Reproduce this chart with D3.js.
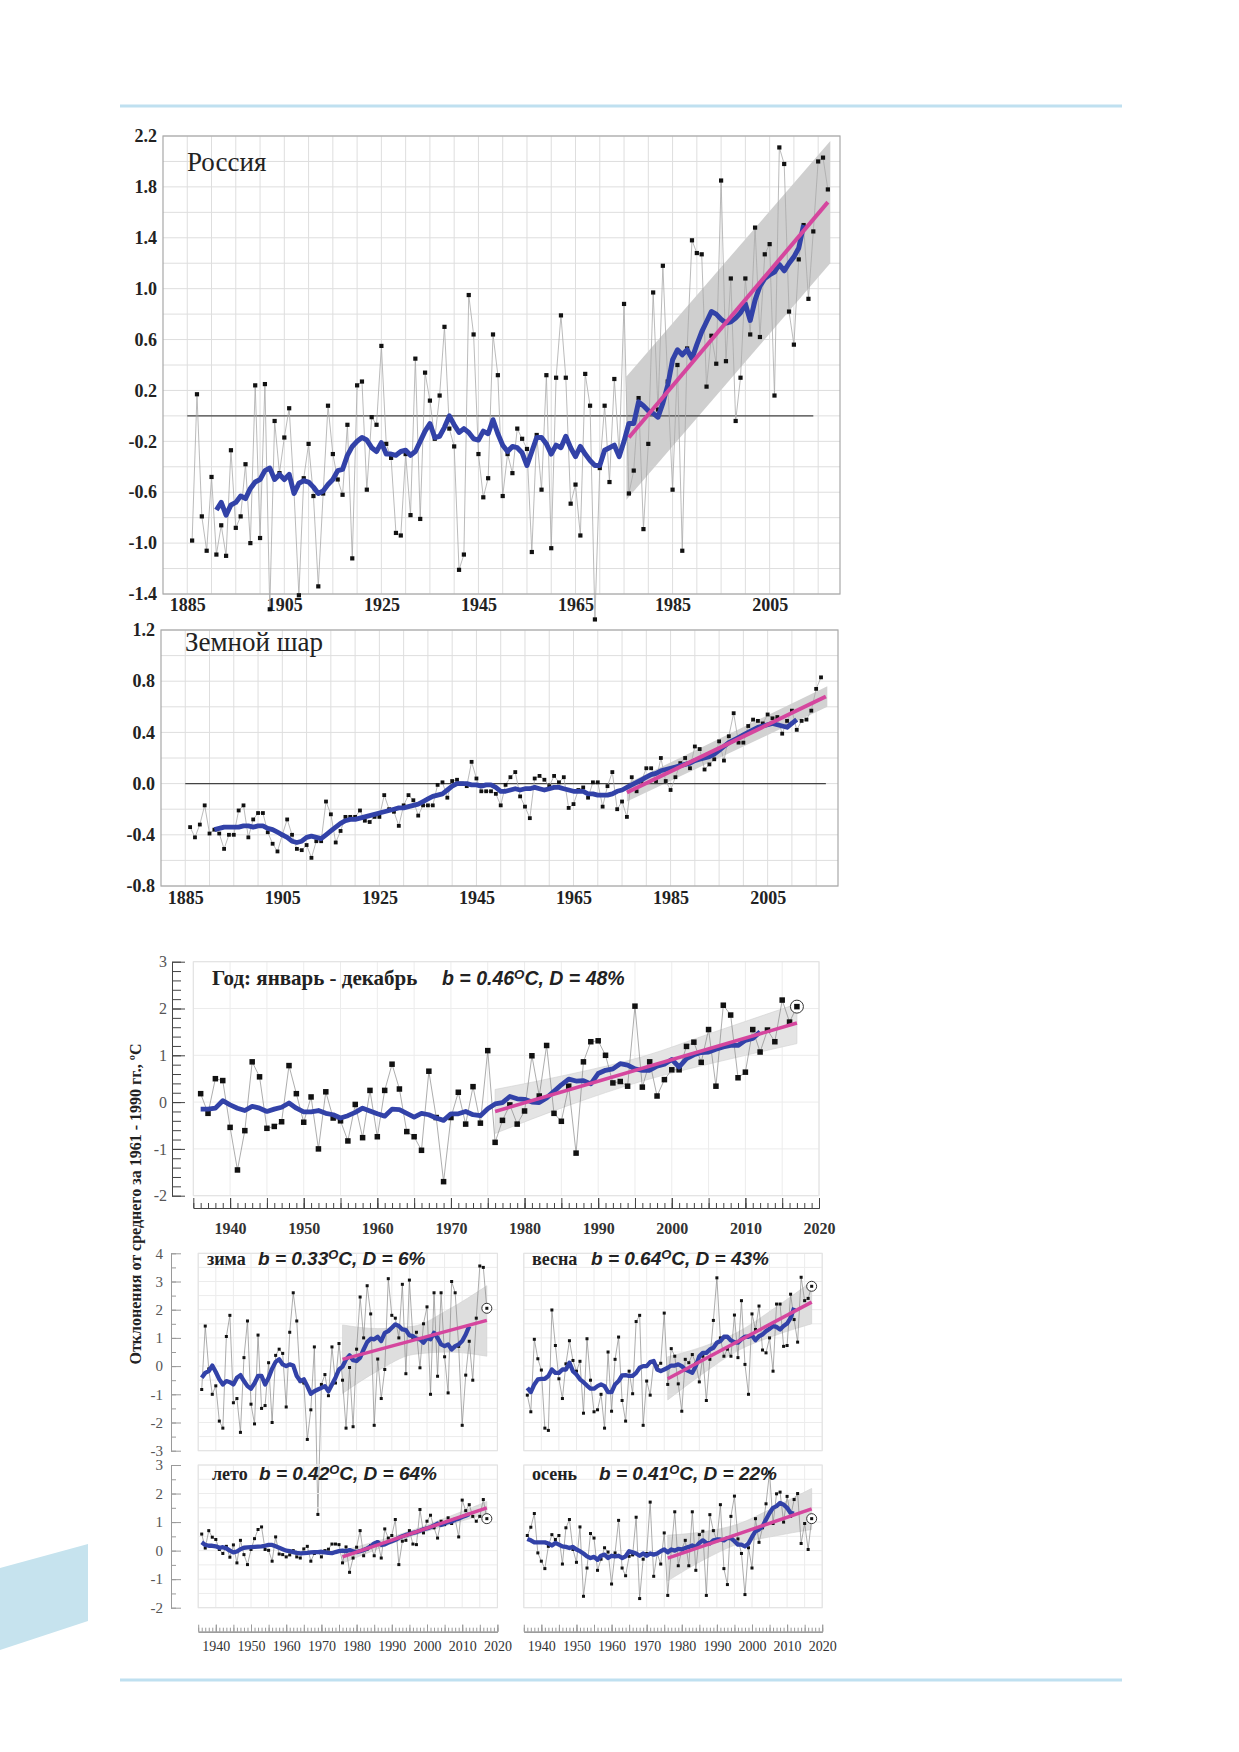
<!DOCTYPE html>
<html>
<head>
<meta charset="utf-8">
<script src="https://cdn.jsdelivr.net/npm/d3@7"></script>
<style>
  body { margin: 0; background: #fff; }
  svg { display: block; }
</style>
</head>
<body>
<svg id="chart" width="1239" height="1752"></svg>
<script>
// ---------- данные: Россия, 1886-2017 ----------
const russiaStart = 1886;
const russiaValues = [
  -0.98, 0.17, -0.79, -1.06, -0.48, -1.09, -0.86, -1.10, -0.27, -0.88,
  -0.79, -0.38, -1.00, 0.24, -0.96, 0.25, -1.52, -0.04, -0.45, -0.17,
  0.06, -0.60, -1.41, -0.49, -0.22, -0.63, -1.34, -0.61, 0.08, -0.30,
  -0.50, -0.62, -0.07, -1.12, 0.24, 0.27, -0.58, -0.01, -0.07, 0.55,
  -0.22, -0.33, -0.92, -0.94, -0.30, -0.78, 0.45, -0.81, 0.34, 0.12,
  -0.18, 0.16, 0.70, -0.10, -0.24, -1.21, -1.09, 0.95, 0.64, -0.30,
  -0.64, -0.49, 0.64, 0.32, -0.63, -0.30, -0.45, -0.10, -0.18, -0.26,
  -1.07, -0.15, -0.58, 0.32, -1.04, 0.30, 0.79, 0.30, -0.69, -0.54,
  -0.94, 0.33, 0.08, -1.60, -0.41, 0.08, -0.52, 0.29, -0.30, 0.88,
  -0.61, -0.43, 0.14, -0.89, -0.22, 0.97, 0.05, 1.18, 0.27, -0.58,
  0.40, -1.06, 0.53, 1.38, 1.28, 1.27, 0.23, 0.63, 0.41, 1.85,
  0.43, 1.08, -0.04, 0.30, 1.08, 0.64, 1.48, 0.62, 1.27, 1.35,
  0.16, 2.11, 1.98, 0.82, 0.56, 1.23, 1.50, 0.92, 1.45, 2.00,
  2.03, 1.78
];
// скользящее среднее (синяя линия), 1891-2012
const russiaSmoothStart = 1891;
const russiaSmooth = [
  -0.74, -0.68, -0.78, -0.70, -0.68, -0.63, -0.65, -0.57, -0.52, -0.50,
  -0.43, -0.41, -0.50, -0.46, -0.50, -0.46, -0.61, -0.53, -0.51, -0.52,
  -0.56, -0.61, -0.59, -0.54, -0.50, -0.43, -0.42, -0.31, -0.24, -0.20,
  -0.17, -0.19, -0.25, -0.28, -0.21, -0.30, -0.30, -0.31, -0.28, -0.27,
  -0.31, -0.28, -0.20, -0.12, -0.06, -0.17, -0.16, -0.09, 0.00, -0.07,
  -0.13, -0.10, -0.13, -0.18, -0.19, -0.12, -0.14, -0.03, -0.14, -0.23,
  -0.28, -0.24, -0.25, -0.29, -0.39, -0.28, -0.17, -0.17, -0.22, -0.30,
  -0.23, -0.25, -0.16, -0.25, -0.32, -0.24, -0.30, -0.35, -0.39, -0.39,
  -0.27, -0.25, -0.23, -0.32, -0.20, -0.06, -0.06, 0.11, 0.08, 0.04,
  0.02, -0.01, 0.10, 0.24, 0.44, 0.52, 0.48, 0.52, 0.45, 0.56,
  0.66, 0.74, 0.82, 0.80, 0.76, 0.73, 0.74, 0.77, 0.81, 0.88,
  0.75, 0.91, 1.02, 1.08, 1.11, 1.13, 1.19, 1.14, 1.20, 1.25,
  1.32, 1.50
];
const russiaTrendYears = [1976, 2017];
const russiaTrend = [-0.17, 1.68];
const russiaBandYears = [1975.5, 2017.5];
const russiaBandLow = [-0.66, 1.20];
const russiaBandHigh = [0.31, 2.16];
const russiaYLabels = [2.2, 1.8, 1.4, 1.0, 0.6, 0.2, -0.2, -0.6, -1.0, -1.4];

// ---------- данные: Земной шар, 1886-2016 ----------
const globeStart = 1886;
const globeValues = [
  -0.34, -0.42, -0.32, -0.17, -0.39, -0.36, -0.39, -0.51, -0.40, -0.40,
  -0.21, -0.17, -0.42, -0.28, -0.23, -0.23, -0.38, -0.47, -0.53, -0.40,
  -0.28, -0.40, -0.51, -0.52, -0.48, -0.58, -0.45, -0.45, -0.14, -0.24,
  -0.46, -0.37, -0.26, -0.26, -0.26, -0.21, -0.29, -0.30, -0.26, -0.26,
  -0.09, -0.20, -0.22, -0.33, -0.17, -0.09, -0.13, -0.25, -0.17, -0.17,
  -0.17, -0.01, 0.01, -0.11, 0.02, 0.03, 0.00, -0.02, 0.17, 0.04,
  -0.06, -0.06, -0.06, -0.08, -0.17, -0.01, 0.05, 0.09, -0.10, -0.18,
  -0.27, 0.04, 0.06, 0.03, -0.02, 0.06, 0.01, 0.05, -0.19, -0.16,
  -0.05, -0.03, -0.11, 0.01, 0.01, -0.18, -0.02, 0.09, -0.20, -0.14,
  -0.26, 0.05, -0.06, 0.02, 0.12, 0.12, 0.02, 0.20, 0.02, -0.05,
  0.05, 0.16, 0.20, 0.12, 0.29, 0.27, 0.11, 0.15, 0.19, 0.33,
  0.18, 0.37, 0.55, 0.32, 0.32, 0.45, 0.50, 0.49, 0.47, 0.54,
  0.51, 0.52, 0.39, 0.49, 0.57, 0.42, 0.49, 0.50, 0.57, 0.74,
  0.83
];
const globeSmoothStart = 1891;
const globeSmooth = [
  -0.36, -0.35, -0.34, -0.34, -0.34, -0.34, -0.33, -0.33, -0.34, -0.33,
  -0.33, -0.35, -0.36, -0.38, -0.40, -0.42, -0.45, -0.46, -0.45, -0.42,
  -0.41, -0.42, -0.43, -0.40, -0.37, -0.34, -0.31, -0.29, -0.28, -0.28,
  -0.27, -0.26, -0.25, -0.24, -0.23, -0.22, -0.21, -0.20, -0.19, -0.19,
  -0.18, -0.17, -0.16, -0.14, -0.12, -0.10, -0.09, -0.08, -0.05, -0.02,
  0.00, 0.00, 0.00, -0.01, -0.01, -0.02, -0.01, -0.01, -0.03, -0.06,
  -0.06, -0.05, -0.04, -0.05, -0.04, -0.04, -0.03, -0.04, -0.05, -0.04,
  -0.03, -0.03, -0.04, -0.05, -0.06, -0.06, -0.06, -0.08, -0.08, -0.09,
  -0.09, -0.09, -0.08, -0.06, -0.05, -0.03, -0.01, 0.01, 0.03, 0.05,
  0.07, 0.08, 0.10, 0.11, 0.12, 0.13, 0.14, 0.15, 0.16, 0.18,
  0.19, 0.20, 0.21, 0.23, 0.26, 0.29, 0.32, 0.34, 0.36, 0.38,
  0.40, 0.42, 0.44, 0.45, 0.46, 0.47, 0.46, 0.45, 0.44, 0.47,
  0.50
];
const globeTrendYears = [1976, 2017];
const globeTrend = [-0.07, 0.68];
const globeBandYears = [1976, 2017.3];
const globeBandLow = [-0.14, 0.60];
const globeBandHigh = [0.00, 0.76];
const globeYLabels = [1.2, 0.8, 0.4, 0.0, -0.4, -0.8];
const longXLabels = [1885, 1905, 1925, 1945, 1965, 1985, 2005];

// ---------- данные: год и сезоны, 1936-2017 ----------
const seasonStart = 1936;
const yearValues = [
  0.18, -0.24, 0.50, 0.46, -0.54, -1.45, -0.61, 0.86, 0.54, -0.56,
  -0.52, -0.42, 0.78, 0.18, -0.43, 0.11, -1.00, 0.22, -0.34, -0.40,
  -0.83, -0.05, -0.76, 0.25, -0.74, 0.25, 0.81, 0.28, -0.63, -0.74,
  -1.03, 0.66, -0.33, -1.70, -0.33, 0.21, -0.47, 0.33, -0.45, 1.10,
  -0.86, -0.39, -0.06, -0.47, -0.19, 0.99, 0.13, 1.21, -0.24, -0.41,
  0.34, -1.09, 0.86, 1.29, 1.31, 1.00, 0.41, 0.44, 0.34, 2.05,
  0.32, 0.86, 0.13, 0.48, 0.69, 0.69, 1.19, 1.28, 0.85, 1.55,
  0.34, 2.07, 1.86, 0.52, 0.64, 1.55, 1.07, 1.54, 1.29, 2.18,
  1.71, 2.04
];
const yearSmooth = [
  -0.15, -0.15, -0.13, 0.03, -0.06, -0.13, -0.18, -0.09, -0.13, -0.20,
  -0.15, -0.11, -0.02, -0.13, -0.21, -0.21, -0.18, -0.24, -0.27, -0.34,
  -0.29, -0.22, -0.13, -0.19, -0.25, -0.30, -0.15, -0.16, -0.24, -0.32,
  -0.24, -0.27, -0.34, -0.39, -0.25, -0.25, -0.20, -0.27, -0.29, -0.14,
  -0.04, -0.01, 0.12, 0.07, 0.06, 0.00, -0.01, 0.09, 0.23, 0.37,
  0.49, 0.45, 0.46, 0.39, 0.61, 0.68, 0.71, 0.82, 0.79, 0.71,
  0.68, 0.68, 0.77, 0.81, 0.91, 0.75, 0.93, 1.01, 1.06, 1.07,
  1.13, 1.18, 1.21, 1.21, 1.32, 1.36, 1.50
];
const winterValues = [
  -0.83, 1.42, -0.10, -1.00, -0.70, -1.95, -2.20, 1.05, 1.80, -1.30,
  -1.15, -2.35, 0.30, 1.60, -1.35, -2.05, 1.10, -1.50, -1.40, 0.12,
  -2.00, 0.38, 0.60, 0.45, -1.45, 1.20, 2.60, 1.60, -0.55, -0.60,
  -2.60, -1.55, 0.68, -5.26, -0.65, -0.30, -1.05, 0.68, -0.60, 0.80,
  -0.50, -2.20, -0.05, -2.15, 0.60, 2.45, 1.00, 2.85, 1.85, -2.10,
  0.25, -1.15, -0.12, 3.10, 1.80, 1.70, 1.00, 2.90, -0.27, 3.05,
  1.00, 1.20, -0.06, 1.50, 2.10, -1.00, 2.60, -0.36, 2.60, 0.33,
  -0.95, 3.00, 2.60, 0.70, -2.10, -0.32, 0.88, -0.50, 1.70, 3.55,
  3.50, 2.05
];
const winterSmooth = [
  -0.41, -0.24, -0.18, 0.02, -0.21, -0.47, -0.65, -0.53, -0.57, -0.65,
  -0.41, -0.32, -0.53, -0.71, -0.80, -0.61, -0.35, -0.35, -0.65, -0.41,
  -0.09, 0.15, 0.24, 0.06, 0.00, 0.06, 0.02, -0.35, -0.53, -0.47,
  -0.71, -0.98, -0.89, -0.83, -0.77, -0.71, -0.89, -0.65, -0.41, -0.12,
  -0.02, 0.24, 0.38, 0.21, 0.18, 0.30, 0.59, 0.85, 0.97, 0.95,
  1.04, 0.89, 1.18, 1.24, 1.36, 1.48, 1.42, 1.30, 1.28, 1.09,
  1.06, 0.97, 0.95, 0.83, 1.00, 0.95, 1.18, 1.00, 0.77, 0.71,
  0.77, 0.59, 0.71, 0.77, 0.89, 1.12, 1.42
];
const springValues = [
  -1.03, -1.62, 0.95, 0.26, -0.14, -2.20, -2.28, 1.99, 0.73, -0.45,
  -1.15, 0.08, 0.90, 0.20, -0.18, 0.17, -1.67, 0.97, -0.50, -1.62,
  -1.55, -1.00, -2.20, 0.50, -1.60, 0.24, 1.03, -1.22, -1.95, -0.18,
  -0.98, 1.58, 1.80, -2.10, -0.53, -1.03, 0.12, 0.00, 0.10, 1.88,
  -0.65, 0.62, 0.35, -0.63, -1.60, 0.24, 0.12, 0.41, 0.10, -0.56,
  0.35, -1.22, 0.24, 1.62, 3.13, 1.00, 0.35, 0.60, 0.35, 1.81,
  0.30, 2.32, 0.06, -1.00, 1.85, 1.30, 2.13, 0.57, 0.47, 1.00,
  -0.18, 2.20, 2.20, 0.70, 0.73, 2.55, 1.65, 0.85, 3.15, 2.32,
  2.40, 2.83
];
const springSmooth = [
  -0.77, -0.92, -0.65, -0.47, -0.45, -0.45, -0.35, -0.12, -0.24, -0.24,
  -0.12, -0.12, 0.12, -0.18, -0.30, -0.47, -0.57, -0.69, -0.80, -0.80,
  -0.71, -0.65, -0.71, -0.92, -0.92, -0.65, -0.53, -0.33, -0.32, -0.35,
  -0.35, -0.24, -0.06, 0.00, 0.00, 0.14, 0.18, -0.12, -0.18, -0.12,
  -0.06, 0.02, 0.02, 0.06, 0.00, -0.12, -0.18, -0.24, 0.00, 0.35,
  0.47, 0.47, 0.59, 0.65, 0.83, 0.89, 1.04, 1.04, 0.91, 0.85,
  0.83, 0.95, 1.04, 1.04, 1.09, 0.92, 1.06, 1.12, 1.24, 1.32,
  1.42, 1.39, 1.30, 1.42, 1.51, 1.71, 2.07
];
const summerValues = [
  0.58, 0.09, 0.70, 0.47, 0.39, 0.04, -0.10, 0.15, -0.23, 0.20,
  -0.43, 0.36, -0.14, -0.49, 0.04, 0.42, 0.74, 0.83, 0.04, 0.01,
  -0.37, 0.48, -0.12, -0.14, -0.22, -0.15, 0.00, -0.22, -0.26, 0.06,
  0.15, -0.37, -0.10, -0.05, -0.22, 0.00, 0.05, 0.23, 0.23, 0.21,
  -0.43, 0.13, -0.76, -0.26, 0.12, 0.70, -0.18, 0.05, 0.18, -0.18,
  0.30, -0.26, 0.76, 0.44, 0.53, 1.09, -0.49, 0.33, 0.36, 0.70,
  0.23, 0.21, 1.44, 0.62, 1.03, 1.24, 0.80, 0.44, 1.03, 0.91,
  1.15, 0.95, 1.10, 0.48, 1.77, 1.40, 1.61, 1.20, 1.03, 1.20,
  1.79, 1.12
];
const summerSmooth = [
  0.29, 0.20, 0.17, 0.17, 0.15, 0.10, 0.12, 0.08, 0.00, -0.06,
  -0.03, 0.05, 0.10, 0.11, 0.12, 0.13, 0.14, 0.15, 0.17, 0.20,
  0.20, 0.15, 0.10, 0.05, 0.00, -0.02, -0.05, -0.08, -0.10, -0.09,
  -0.08, -0.06, -0.05, -0.05, -0.04, -0.06, -0.08, -0.09, -0.05, -0.02,
  0.00, -0.02, 0.02, -0.03, -0.05, -0.02, 0.02, 0.08, 0.15, 0.25,
  0.30, 0.20, 0.22, 0.28, 0.33, 0.38, 0.45, 0.50, 0.55, 0.58,
  0.62, 0.65, 0.70, 0.75, 0.78, 0.82, 0.88, 0.95, 0.90, 0.95,
  1.00, 1.02, 1.08, 1.12, 1.18, 1.22, 1.28
];
const autumnValues = [
  0.53, 0.82, 1.30, -0.08, -0.37, -0.63, 0.15, 0.56, 0.39, 0.53,
  -0.47, 0.80, 1.09, 0.04, -0.41, 0.83, -1.60, -0.61, 0.60, 0.44,
  -0.69, -0.30, 0.10, -0.05, -1.17, -0.08, 1.06, -0.61, -0.88, -0.20,
  -0.15, 1.17, -1.68, -0.30, -0.10, 1.70, -0.90, -0.10, -0.47, 0.62,
  -1.57, 0.00, 1.36, -0.53, 0.05, 0.36, -0.53, 1.36, -0.69, 0.56,
  0.68, -1.57, 1.26, 0.70, 0.35, 1.61, -0.63, -1.19, 1.20, 1.91,
  0.41, -0.10, -1.54, 0.10, -0.61, 1.12, 0.29, 0.80, 1.64, 2.75,
  0.95, 1.99, 2.05, 1.00, 1.90, 1.20, 1.79, 2.00, 0.25, 0.95,
  0.04, 1.12
];
const autumnSmooth = [
  0.41, 0.36, 0.29, 0.29, 0.29, 0.29, 0.25, 0.18, 0.27, 0.21,
  0.15, 0.13, 0.09, 0.13, 0.04, -0.02, -0.10, -0.20, -0.26, -0.22,
  -0.32, -0.18, -0.14, -0.26, -0.18, -0.20, -0.18, -0.26, -0.20, -0.02,
  -0.06, -0.10, -0.18, -0.10, -0.18, -0.10, -0.14, -0.10, -0.02, 0.04,
  -0.06, 0.04, 0.00, 0.06, 0.04, 0.09, 0.13, 0.18, 0.13, 0.27,
  0.36, 0.27, 0.25, 0.36, 0.39, 0.39, 0.36, 0.44, 0.44, 0.33,
  0.21, 0.21, 0.15, 0.25, 0.48, 0.68, 0.74, 0.85, 1.09, 1.32,
  1.50, 1.56, 1.67, 1.61, 1.50, 1.32, 1.30
];
// линейный тренд 1976-2017 и доверительная полоса
const trendYears = [1976, 2017];
const yearTrend = [-0.20, 1.69];
const winterTrend = [0.24, 1.62];
const springTrend = [-0.45, 2.27];
const summerTrend = [-0.22, 1.50];
const autumnTrend = [-0.26, 1.46];
const bandYears = [1976, 1986, 1996, 2006, 2017];
const yearBandLow = [-0.67, -0.07, 0.45, 0.85, 1.25];
const yearBandHigh = [0.27, 0.59, 0.97, 1.51, 2.10];
const winterBandLow = [-0.97, -0.17, 0.41, 0.50, 0.35];
const winterBandHigh = [1.46, 1.33, 1.41, 2.00, 2.85];
const springBandLow = [-1.20, -0.27, 0.55, 1.06, 1.50];
const springBandHigh = [0.33, 0.69, 1.21, 2.02, 3.00];
const summerBandLow = [-0.44, 0.06, 0.52, 0.90, 1.28];
const summerBandHigh = [0.00, 0.34, 0.72, 1.18, 1.72];
const autumnBandLow = [-1.06, -0.34, 0.23, 0.50, 0.74];
const autumnBandHigh = [0.54, 0.66, 0.93, 1.50, 2.18];
const decadeLabels = [1940, 1950, 1960, 1970, 1980, 1990, 2000, 2010, 2020];

// ---------- оформление ----------
const svg = d3.select("#chart");
const serif = "'Liberation Serif', 'Times New Roman', serif";
const sans = "'Liberation Sans', Arial, sans-serif";
const BLUE = "#3242a8";
const PINK = "#d5469e";

// вспомогательная функция: пары [год, значение]
function pairs(start, values) {
  return values.map((v, i) => [start + i, v]);
}
function zip(years, values) {
  return years.map((y, i) => [y, values[i]]);
}

// рамки страницы
svg.append("line").attr("x1", 120).attr("x2", 1122).attr("y1", 106).attr("y2", 106)
  .attr("stroke", "#bfe0f0").attr("stroke-width", 3);
svg.append("line").attr("x1", 120).attr("x2", 1122).attr("y1", 1680).attr("y2", 1680)
  .attr("stroke", "#bfe0f0").attr("stroke-width", 3);
svg.append("polygon").attr("points", "0,1568 88,1544 88,1621 0,1650").attr("fill", "#c6e3ee");

// ================= длинные ряды (Россия, Земной шар) =================
function longPanel(o) {
  const g = svg.append("g");
  const x = d3.scaleLinear().domain([1880, 2019.5]).range([o.left, o.right]);
  const y = d3.scaleLinear().domain(o.yDomain).range([o.bottom, o.top]);

  // сетка
  g.selectAll(".vg").data(d3.range(1885, 2019, 5)).join("line")
    .attr("x1", d => x(d)).attr("x2", d => x(d))
    .attr("y1", o.top).attr("y2", o.bottom)
    .attr("stroke", "#dedede").attr("stroke-width", 1);
  g.selectAll(".hg").data(o.gridY).join("line")
    .attr("x1", o.left).attr("x2", o.right)
    .attr("y1", d => y(d)).attr("y2", d => y(d))
    .attr("stroke", "#dedede").attr("stroke-width", 1);
  g.append("rect").attr("x", o.left).attr("y", o.top)
    .attr("width", o.right - o.left).attr("height", o.bottom - o.top)
    .attr("fill", "none").attr("stroke", "#a8a8a8").attr("stroke-width", 1.2);

  // подписи осей
  g.append("g").attr("transform", `translate(${o.left},0)`)
    .call(d3.axisLeft(y).tickValues(o.yLabels).tickSize(0).tickPadding(6).tickFormat(d => d.toFixed(1)))
    .call(a => a.select(".domain").remove())
    .selectAll("text").attr("font-family", serif).attr("font-weight", "bold")
    .attr("font-size", 18).attr("fill", "#222");
  g.append("g").attr("transform", `translate(0,${o.bottom})`)
    .call(d3.axisBottom(x).tickValues(longXLabels).tickSize(0).tickPadding(o.xPad).tickFormat(d => d))
    .call(a => a.select(".domain").remove())
    .selectAll("text").attr("font-family", serif).attr("font-weight", "bold")
    .attr("font-size", 18).attr("fill", "#222");

  // полоса тренда
  const band = o.bandYears.map((yr, i) => ({ yr, lo: o.bandLow[i], hi: o.bandHigh[i] }));
  g.append("path").datum(band)
    .attr("d", d3.area().x(d => x(d.yr)).y0(d => y(d.lo)).y1(d => y(d.hi)))
    .attr("fill", o.bandColor).attr("stroke", "none");

  // нулевая линия
  g.append("line").attr("x1", x(1885)).attr("x2", x(o.zeroEnd))
    .attr("y1", y(0)).attr("y2", y(0)).attr("stroke", "#444").attr("stroke-width", 1.3);

  // годовые значения
  const pts = pairs(o.start, o.values);
  g.append("path").datum(pts)
    .attr("d", d3.line().x(d => x(d[0])).y(d => y(d[1])))
    .attr("fill", "none").attr("stroke", "#a9a9a9").attr("stroke-width", 0.8);
  g.selectAll(".pt").data(pts).join("rect")
    .attr("x", d => x(d[0]) - o.sq / 2).attr("y", d => y(d[1]) - o.sq / 2)
    .attr("width", o.sq).attr("height", o.sq).attr("fill", "#111");

  // сглаженная кривая и тренд
  g.append("path").datum(pairs(o.smoothStart, o.smooth))
    .attr("d", d3.line().x(d => x(d[0])).y(d => y(d[1])))
    .attr("fill", "none").attr("stroke", BLUE).attr("stroke-width", o.blueW)
    .attr("stroke-linejoin", "round");
  g.append("path").datum(zip(o.trendYears, o.trend))
    .attr("d", d3.line().x(d => x(d[0])).y(d => y(d[1])))
    .attr("fill", "none").attr("stroke", PINK).attr("stroke-width", 4);

  g.append("text").attr("x", o.left + 24).attr("y", o.titleY)
    .attr("font-family", serif).attr("font-size", 27).attr("fill", "#222").text(o.title);
}

longPanel({
  title: "Россия", titleY: 171,
  left: 163, right: 840, top: 136, bottom: 594,
  yDomain: [-1.4, 2.2], yLabels: russiaYLabels,
  gridY: d3.range(-14, 23, 2).map(d => d / 10), xPad: 4,
  start: russiaStart, values: russiaValues,
  smoothStart: russiaSmoothStart, smooth: russiaSmooth,
  trendYears: russiaTrendYears, trend: russiaTrend,
  bandYears: russiaBandYears, bandLow: russiaBandLow, bandHigh: russiaBandHigh,
  bandColor: "#cfcfcf", zeroEnd: 2014, sq: 4.2, blueW: 5
});
longPanel({
  title: "Земной шар", titleY: 651,
  left: 161, right: 838, top: 630, bottom: 886,
  yDomain: [-0.8, 1.2], yLabels: globeYLabels,
  gridY: d3.range(-8, 13, 2).map(d => d / 10), xPad: 5,
  start: globeStart, values: globeValues,
  smoothStart: globeSmoothStart, smooth: globeSmooth,
  trendYears: globeTrendYears, trend: globeTrend,
  bandYears: globeBandYears, bandLow: globeBandLow, bandHigh: globeBandHigh,
  bandColor: "#d2d2d2", zeroEnd: 2017, sq: 3.8, blueW: 4.8
});

// ================= год и сезоны =================
function statsText(g, x, y, size, b, D) {
  const t = g.append("text").attr("x", x).attr("y", y)
    .attr("font-family", sans).attr("font-weight", "bold").attr("font-style", "italic")
    .attr("font-size", size).attr("fill", "#222");
  t.append("tspan").text(`b = ${b}`);
  t.append("tspan").attr("font-size", size * 0.68).attr("dy", -size * 0.32).text("O");
  t.append("tspan").attr("dy", size * 0.32).text(`C, D = ${D}%`);
}

function seasonPanel(o) {
  const g = svg.append("g");
  const x = d3.scaleLinear().domain([1935, 2020]).range([o.left, o.right]);
  const y = d3.scaleLinear().domain(o.yDomain).range([o.bottom, o.top]);

  g.selectAll(".vg").data(d3.range(1935, 2021, 5)).join("line")
    .attr("x1", d => x(d)).attr("x2", d => x(d)).attr("y1", o.top).attr("y2", o.bottom)
    .attr("stroke", o.gridColor).attr("stroke-width", 1);
  g.selectAll(".hg").data(o.gridY).join("line")
    .attr("x1", o.left).attr("x2", o.right).attr("y1", d => y(d)).attr("y2", d => y(d))
    .attr("stroke", o.gridColor).attr("stroke-width", 1);
  g.append("rect").attr("x", o.left).attr("y", o.top)
    .attr("width", o.right - o.left).attr("height", o.bottom - o.top)
    .attr("fill", "none").attr("stroke", "#e2e2e2");

  // ось Y
  if (o.yAxisX) {
    const ay = g.append("g").attr("transform", `translate(${o.yAxisX},0)`);
    ay.call(d3.axisLeft(y).tickValues(o.minorY).tickSize(-o.minorLen).tickSizeOuter(0).tickFormat(""));
    ay.append("g").call(d3.axisLeft(y).tickValues(o.majorY).tickSize(-o.majorLen)
      .tickSizeOuter(0).tickPadding(o.yPad).tickFormat(d => String(d)));
    ay.selectAll("path,line").attr("stroke", o.axisColor);
    ay.selectAll("text").attr("font-family", serif).attr("font-size", o.yFont).attr("fill", "#555");
  }
  // ось X
  if (o.xAxisY) {
    const ax = g.append("g").attr("transform", `translate(0,${o.xAxisY})`);
    ax.call(d3.axisBottom(x).tickValues(d3.range(1935, 2021)).tickSize(-o.xMinor).tickSizeOuter(0).tickFormat(""));
    ax.append("g").call(d3.axisBottom(x).tickValues(d3.range(1935, 2021, 5)).tickSize(-o.xMajor)
      .tickSizeOuter(0).tickFormat(""));
    ax.append("g").call(d3.axisBottom(x).tickValues(decadeLabels).tickSize(-o.xMajor)
      .tickSizeOuter(0).tickPadding(o.xPad).tickFormat(d => d));
    ax.selectAll("path,line").attr("stroke", o.axisColor);
    ax.selectAll("text").attr("font-family", serif).attr("font-size", o.xFont)
      .attr("font-weight", o.xBold ? "bold" : "normal").attr("fill", "#333");
  }

  // полоса
  const band = bandYears.map((yr, i) => ({ yr, lo: o.bandLow[i], hi: o.bandHigh[i] }));
  g.append("path").datum(band)
    .attr("d", d3.area().curve(d3.curveMonotoneX).x(d => x(d.yr)).y0(d => y(d.lo)).y1(d => y(d.hi)))
    .attr("fill", o.bandColor).attr("stroke", "#d0d0d0").attr("stroke-width", 0.6);

  const pts = pairs(seasonStart, o.values);
  g.append("path").datum(pts)
    .attr("d", d3.line().x(d => x(d[0])).y(d => y(d[1])))
    .attr("fill", "none").attr("stroke", "#8a8a8a").attr("stroke-width", 0.7);
  const last = pts[pts.length - 1];
  g.append("circle").attr("cx", x(last[0])).attr("cy", y(last[1])).attr("r", o.ring)
    .attr("fill", "#fff").attr("stroke", "#333").attr("stroke-width", 1);
  g.selectAll(".pt").data(pts).join("rect")
    .attr("x", d => x(d[0]) - o.sq / 2).attr("y", d => y(d[1]) - o.sq / 2)
    .attr("width", o.sq).attr("height", o.sq).attr("fill", "#111");

  g.append("path").datum(pairs(seasonStart, o.smooth))
    .attr("d", d3.line().x(d => x(d[0])).y(d => y(d[1])))
    .attr("fill", "none").attr("stroke", BLUE).attr("stroke-width", o.blueW)
    .attr("stroke-linejoin", "round");
  g.append("path").datum(zip(trendYears, o.trend))
    .attr("d", d3.line().x(d => x(d[0])).y(d => y(d[1])))
    .attr("fill", "none").attr("stroke", PINK).attr("stroke-width", o.pinkW);

  g.append("text").attr("x", o.nameX).attr("y", o.titleY)
    .attr("font-family", serif).attr("font-weight", "bold").attr("font-size", o.nameFont)
    .attr("fill", "#222").text(o.name);
  statsText(g, o.statX, o.titleY, o.statFont, o.b, o.D);
}

// годовой график
seasonPanel({
  name: "Год: январь - декабрь", nameX: 212, statX: 442, titleY: 985,
  nameFont: 21, statFont: 19.5, b: "0.46", D: 48,
  left: 193.3, right: 819, top: 961.7, bottom: 1195.7, yDomain: [-2, 3],
  gridY: [-2, -1, 0, 1, 2, 3], gridColor: "#ececec",
  yAxisX: 172, majorY: [-2, -1, 0, 1, 2, 3], minorY: d3.range(-20, 31, 2).map(d => d / 10),
  majorLen: 13, minorLen: 9, yPad: 5, yFont: 16, axisColor: "#444",
  xAxisY: 1208, xMinor: 5, xMajor: 10, xPad: 15, xFont: 16, xBold: true,
  values: yearValues, smooth: yearSmooth, trend: yearTrend,
  bandLow: yearBandLow, bandHigh: yearBandHigh, bandColor: "#e4e4e4",
  sq: 5.5, ring: 6.5, blueW: 4.8, pinkW: 3.5
});
// зима
seasonPanel({
  name: "зима", nameX: 207, statX: 258, titleY: 1265,
  nameFont: 18, statFont: 19, b: "0.33", D: 6,
  left: 198.2, right: 497.4, top: 1253.3, bottom: 1450.7, yDomain: [-3, 4],
  gridY: d3.range(-6, 9).map(d => d / 2), gridColor: "#ececec",
  yAxisX: 171, majorY: [-3, -2, -1, 0, 1, 2, 3, 4], minorY: d3.range(-6, 9).map(d => d / 2),
  majorLen: 10, minorLen: 5, yPad: 8, yFont: 15, axisColor: "#9a9a9a",
  values: winterValues, smooth: winterSmooth, trend: winterTrend,
  bandLow: winterBandLow, bandHigh: winterBandHigh, bandColor: "#dedede",
  sq: 3, ring: 5, blueW: 4.3, pinkW: 3.5
});
// весна
seasonPanel({
  name: "весна", nameX: 532, statX: 591, titleY: 1265,
  nameFont: 18, statFont: 19, b: "0.64", D: 43,
  left: 523.8, right: 822.2, top: 1253.3, bottom: 1450.7, yDomain: [-3, 4],
  gridY: d3.range(-6, 9).map(d => d / 2), gridColor: "#ececec",
  values: springValues, smooth: springSmooth, trend: springTrend,
  bandLow: springBandLow, bandHigh: springBandHigh, bandColor: "#dedede",
  sq: 3, ring: 5, blueW: 4.3, pinkW: 3.5
});
// лето
seasonPanel({
  name: "лето", nameX: 212, statX: 259, titleY: 1480,
  nameFont: 18, statFont: 19, b: "0.42", D: 64,
  left: 198.2, right: 497.4, top: 1465, bottom: 1607.7, yDomain: [-2, 3],
  gridY: d3.range(-4, 7).map(d => d / 2), gridColor: "#ececec",
  yAxisX: 171, majorY: [-2, -1, 0, 1, 2, 3], minorY: d3.range(-4, 7).map(d => d / 2),
  majorLen: 10, minorLen: 5, yPad: 8, yFont: 15, axisColor: "#9a9a9a",
  xAxisY: 1631.7, xMinor: 4, xMajor: 7, xPad: 9, xFont: 14, xBold: false,
  values: summerValues, smooth: summerSmooth, trend: summerTrend,
  bandLow: summerBandLow, bandHigh: summerBandHigh, bandColor: "#dedede",
  sq: 3, ring: 5, blueW: 4.3, pinkW: 3.5
});
// осень
seasonPanel({
  name: "осень", nameX: 532, statX: 599, titleY: 1480,
  nameFont: 18, statFont: 19, b: "0.41", D: 22,
  left: 523.8, right: 822.2, top: 1465, bottom: 1607.7, yDomain: [-2, 3],
  gridY: d3.range(-4, 7).map(d => d / 2), gridColor: "#ececec",
  axisColor: "#9a9a9a",
  xAxisY: 1631.7, xMinor: 4, xMajor: 7, xPad: 9, xFont: 14, xBold: false,
  values: autumnValues, smooth: autumnSmooth, trend: autumnTrend,
  bandLow: autumnBandLow, bandHigh: autumnBandHigh, bandColor: "#dedede",
  sq: 3, ring: 5, blueW: 4.3, pinkW: 3.5
});

// общая подпись оси Y
svg.append("text")
  .attr("transform", "translate(141,1204) rotate(-90)")
  .attr("text-anchor", "middle")
  .attr("font-family", serif).attr("font-weight", "bold").attr("font-size", 16).attr("fill", "#222")
  .text("Отклонения от среднего за 1961 - 1990 гг., ºС");
</script>
</body>
</html>
